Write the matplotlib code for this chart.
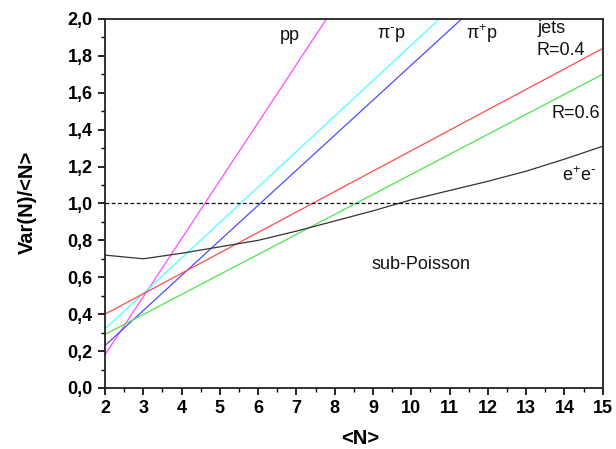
#!/usr/bin/env python3
"""Scaled variance Var(N)/<N> versus mean multiplicity for several reactions."""

import matplotlib as mpl

mpl.use("Agg")

import matplotlib.pyplot as plt
from matplotlib.ticker import MultipleLocator

plt.rcParams["font.family"] = ["Liberation Sans", "DejaVu Sans"]
plt.rcParams["mathtext.default"] = "regular"

# linear fits, given by their values at <N> = 2 and <N> = 15
fit_n = [2, 15]
pp = [0.18, 4.27]
pim_p = [0.32, 2.82]
pip_p = [0.23, 2.70]
jets_r04 = [0.40, 1.84]
jets_r06 = [0.29, 1.70]

# e+e- curve, read point by point
ee_n = [2, 3, 4, 5, 6, 7, 8, 9, 10, 11, 12, 13, 14, 15]
ee = [0.72, 0.70, 0.73, 0.765, 0.80, 0.85, 0.905, 0.96, 1.02, 1.07, 1.12, 1.175, 1.24, 1.31]

poisson_level = 1.0

x_ticks = list(range(2, 16))
y_ticks = [0.0, 0.2, 0.4, 0.6, 0.8, 1.0, 1.2, 1.4, 1.6, 1.8, 2.0]
y_tick_labels = ["0,0", "0,2", "0,4", "0,6", "0,8", "1,0", "1,2", "1,4", "1,6", "1,8", "2,0"]


def main() -> None:
    fig = plt.figure(figsize=(6.16, 4.49), dpi=100)
    ax = fig.add_axes([0.1705, 0.1359, 0.808, 0.822])

    ax.plot(fit_n, pp, color="#ff4cff", lw=0.9)
    ax.plot(fit_n, pim_p, color="#4cffff", lw=0.9)
    ax.plot(fit_n, pip_p, color="#4c4cff", lw=0.9)
    ax.plot(fit_n, jets_r04, color="#ff4c4c", lw=0.9)
    ax.plot(fit_n, jets_r06, color="#4ce64c", lw=0.9)
    ax.plot(ee_n, ee, color="#333333", lw=0.9)
    ax.axhline(poisson_level, color="black", lw=0.9, ls=(0, (3, 2)))

    ax.set_xlim(2, 15)
    ax.set_ylim(0, 2)
    ax.set_xticks(x_ticks)
    ax.set_xticklabels([str(v) for v in x_ticks], fontweight="bold", fontsize=13)
    ax.set_yticks(y_ticks)
    ax.set_yticklabels(y_tick_labels, fontweight="bold", fontsize=13)
    ax.xaxis.set_minor_locator(MultipleLocator(0.5))
    ax.yaxis.set_minor_locator(MultipleLocator(0.1))
    ax.tick_params(which="major", direction="out", length=5, width=1.2)
    ax.tick_params(which="minor", direction="out", length=3, width=1.0)
    ax.tick_params(axis="x", which="major", pad=4)
    ax.tick_params(axis="y", which="major", pad=4)
    for spine in ax.spines.values():
        spine.set_linewidth(1.3)
        spine.set_color("#222222")

    ax.set_xlabel("<N>", fontweight="bold", fontsize=14.5)
    ax.set_ylabel("Var(N)/<N>", fontweight="bold", fontsize=14.5)
    ax.xaxis.set_label_coords(0.512, -0.112)
    ax.yaxis.set_label_coords(-0.137, 0.503)

    text_kw = dict(fontsize=13, color="#111111")
    ax.text(6.83, 1.91, "pp", ha="center", va="center", **text_kw)
    ax.text(9.49, 1.91, r"$\pi^{\text{-}}$p", ha="center", va="center", **text_kw)
    ax.text(11.84, 1.92, r"$\pi^{+}$p", ha="center", va="center", **text_kw)
    ax.text(13.28, 1.95, "jets", ha="left", va="center", **text_kw)
    ax.text(13.28, 1.83, "R=0.4", ha="left", va="center", **text_kw)
    ax.text(13.67, 1.485, "R=0.6", ha="left", va="center", **text_kw)
    ax.text(13.93, 1.15, r"e$^{+}$e$^{\text{-}}$", ha="left", va="center", **text_kw)
    ax.text(10.25, 0.667, "sub-Poisson", ha="center", va="center", **text_kw)

    fig.savefig("out.png", dpi=100)
    plt.close(fig)


if __name__ == "__main__":
    main()
